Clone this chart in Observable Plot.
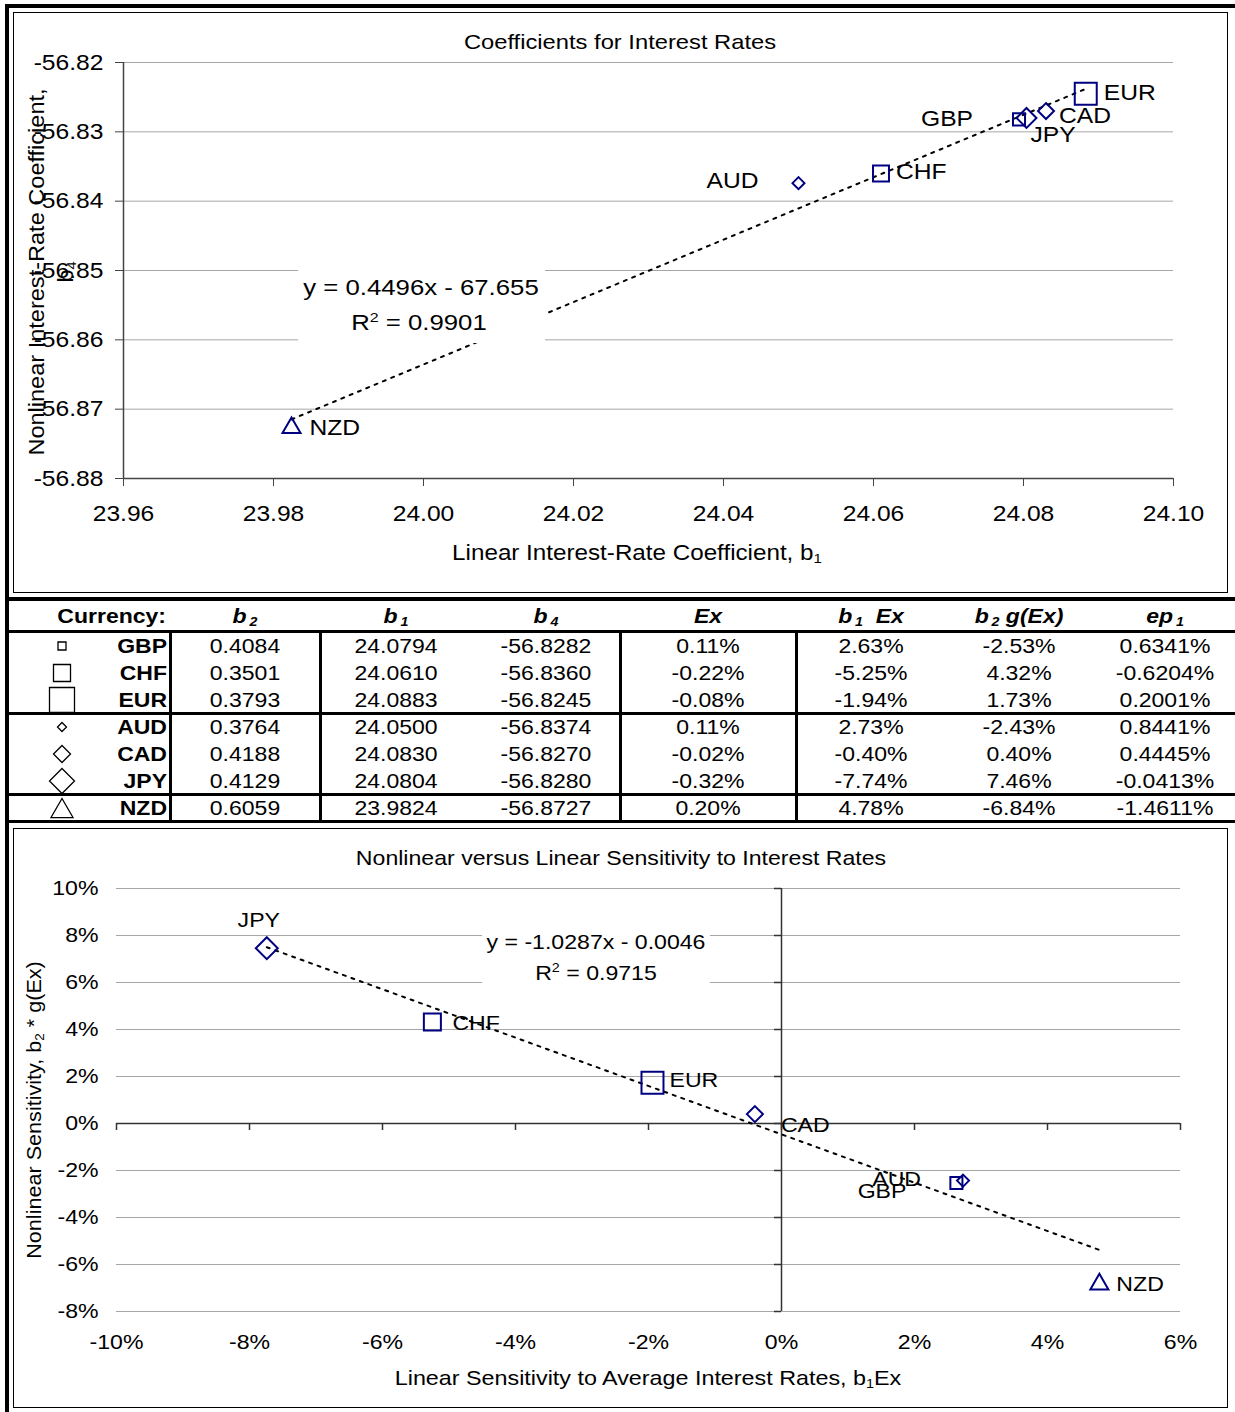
<!DOCTYPE html>
<html><head><meta charset="utf-8">
<script src="https://cdn.jsdelivr.net/npm/d3@7"></script>
<script src="https://cdn.jsdelivr.net/npm/@observablehq/plot@0.6"></script>
<style>
body{margin:0;background:#fff;font-family:"Liberation Sans",Arial,sans-serif;color:#000;}
#page{position:relative;width:1235px;height:1412px;overflow:hidden;background:#fff;}
sub{font-size:62%;vertical-align:-0.25em;line-height:0;}
sup{font-size:62%;vertical-align:0.6em;line-height:0;}
</style></head><body><div id="page"></div>
<script>
// ---------- data ----------
const currencies = ["GBP","CHF","EUR","AUD","CAD","JPY","NZD"];
const b2    = [0.4084, 0.3501, 0.3793, 0.3764, 0.4188, 0.4129, 0.6059];
const b1    = [24.0794, 24.0610, 24.0883, 24.0500, 24.0830, 24.0804, 23.9824];
const b4    = [-56.8282, -56.8360, -56.8245, -56.8374, -56.8270, -56.8280, -56.8727];
const ex    = [0.11, -0.22, -0.08, 0.11, -0.02, -0.32, 0.20];      // %
const b1Ex  = [2.63, -5.25, -1.94, 2.73, -0.40, -7.74, 4.78];       // %
const b2gEx = [-2.53, 4.32, 1.73, -2.43, 0.40, 7.46, -6.84];        // %
const ep1   = [0.6341, -0.6204, 0.2001, 0.8441, 0.4445, -0.0413, -1.4611]; // %
const topXTicks = [23.96, 23.98, 24.00, 24.02, 24.04, 24.06, 24.08, 24.10];
const topYTicks = [-56.88, -56.87, -56.86, -56.85, -56.84, -56.83, -56.82];
const botXTicks = [-10, -8, -6, -4, -2, 0, 2, 4, 6];
const botYTicks = [-8, -6, -4, -2, 0, 2, 4, 6, 8, 10];
const topEquation = ["y = 0.4496x - 67.655", "R<sup>2</sup> = 0.9901"];
const botEquation = ["y = -1.0287x - 0.0046", "R<sup>2</sup> = 0.9715"];

const rows = currencies.map((c, i) => ({c, b2: b2[i], b1: b1[i], b4: b4[i], ex: ex[i], b1Ex: b1Ex[i], b2gEx: b2gEx[i], ep1: ep1[i]}));

// ---------- styles ----------
const NAVY = "#000080";
const marker = {
  GBP: {symbol: "square",   rTop: 6.8, rBot: 6.8},
  CHF: {symbol: "square",   rTop: 9.0, rBot: 9.6},
  EUR: {symbol: "square",   rTop: 12.4, rBot: 12.4},
  AUD: {symbol: "diamond2", rTop: 5.4, rBot: 5.4},
  CAD: {symbol: "diamond2", rTop: 7.2, rBot: 7.2},
  JPY: {symbol: "diamond2", rTop: 9.0, rBot: 9.9},
  NZD: {symbol: "triangle", rTop: 6.7, rBot: 6.7}
};
const topLab = {
  GBP: {a: "end", dx: -46, dy: 0}, CHF: {a: "start", dx: 15, dy: -1}, EUR: {a: "start", dx: 18, dy: -1},
  AUD: {a: "end", dx: -40, dy: -2}, CAD: {a: "start", dx: 13, dy: 5}, JPY: {a: "start", dx: 4, dy: 17},
  NZD: {a: "start", dx: 18, dy: 0}
};
const botLab = {
  GBP: {a: "end", dx: -50, dy: 8}, CHF: {a: "start", dx: 20, dy: 1}, EUR: {a: "start", dx: 17, dy: -3},
  AUD: {a: "end", dx: -42, dy: -1}, CAD: {a: "start", dx: 26, dy: 11}, JPY: {a: "middle", dx: -8, dy: -28},
  NZD: {a: "start", dx: 17, dy: 0}
};

const page = document.getElementById("page");
function el(tag, css, html) {
  const e = document.createElement(tag);
  Object.assign(e.style, css);
  if (html != null) e.innerHTML = html;
  page.appendChild(e);
  return e;
}
function label(html, cx, cy, o = {}) {
  const size = o.size || 22, k = o.k || 1.1, anchor = o.anchor || "middle";
  const tx = anchor === "middle" ? "-50%" : anchor === "end" ? "-100%" : "0";
  const origin = anchor === "middle" ? "50% 50%" : anchor === "end" ? "100% 50%" : "0 50%";
  const tr = o.rotate ? `translate(-50%,-50%) rotate(-90deg) scaleX(${k})` : `translate(${tx},-50%) scaleX(${k})`;
  return el("div", {position: "absolute", left: cx + "px", top: cy + "px", whiteSpace: "nowrap",
    fontSize: size + "px", lineHeight: (o.lh || Math.round(size * 1.25)) + "px", fontWeight: o.weight || "normal",
    fontStyle: o.style || "normal", textAlign: "center", transformOrigin: o.rotate ? "50% 50%" : origin, transform: tr, zIndex: 3}, html);
}
function stretch(svg, k) {
  svg.querySelectorAll("text").forEach(t => {
    const bb = t.getBBox();
    const an = getComputedStyle(t).textAnchor;
    const ax = an === "end" ? bb.x + bb.width : an === "middle" ? bb.x + bb.width / 2 : bb.x;
    const tr = t.getAttribute("transform") || "";
    t.setAttribute("transform", `${tr} translate(${ax},0) scale(${k},1) translate(${-ax},0)`);
  });
}

// ---------- outer frame ----------
el("div", {position: "absolute", left: "5px", top: "4px", width: "1400px", height: "1500px", borderLeft: "4px solid #000", borderTop: "4px solid #000"});

// ---------- top chart ----------
el("div", {position: "absolute", left: "13px", top: "12px", width: "1213px", height: "579px", border: "1.5px solid #000"});
const topFont = 22, topK = 1.12;
const topChart = Plot.plot({
  width: 1213, height: 579,
  marginLeft: 109, marginRight: 54, marginTop: 49, marginBottom: 114,
  style: {fontFamily: '"Liberation Sans", Arial, sans-serif', fontSize: topFont + "px", color: "#000", background: "transparent", overflow: "visible"},
  x: {domain: [23.96, 24.10]},
  y: {domain: [-56.88, -56.82]},
  marks: [
    Plot.gridY(topYTicks, {stroke: "#a6a6a6", strokeOpacity: 1, strokeWidth: 1}),
    Plot.ruleY([-56.88], {stroke: "#444", strokeWidth: 1.5}),
    Plot.ruleX([23.96], {stroke: "#444", strokeWidth: 1.5}),
    Plot.axisY(topYTicks, {tickSize: 8, tickPadding: 12, tickFormat: d => d.toFixed(2), stroke: "#444", label: null}),
    Plot.axisX(topXTicks, {tickSize: 8, tickPadding: 19, tickFormat: d => d.toFixed(2), stroke: "#444", label: null}),
    Plot.linearRegressionY(rows, {x: "b1", y: "b4", ci: 0, stroke: "#000", strokeWidth: 2, strokeDasharray: "3,6"}),
    ...rows.map(r => Plot.dot([r], {x: "b1", y: "b4", symbol: marker[r.c].symbol, r: marker[r.c].rTop, stroke: NAVY, strokeWidth: 2, fill: "none"})),
    ...rows.map(r => Plot.text([r], {x: "b1", y: "b4", text: "c", textAnchor: topLab[r.c].a, dx: topLab[r.c].dx, dy: topLab[r.c].dy, fill: "#000"}))
  ]
});
topChart.style.position = "absolute"; topChart.style.left = "14px"; topChart.style.top = "13px"; topChart.style.zIndex = 1;
page.appendChild(topChart);
stretch(topChart, topK);

label("Coefficients for Interest Rates", 620, 42, {size: 21, k: 1.13});
label("Linear Interest-Rate Coefficient, b<sub>1</sub>", 637, 553, {size: 22, k: 1.1});
label("Nonlinear Interest-Rate Coefficient,<br>b<sub>4</sub>", 51, 272, {size: 22, k: 1.07, rotate: true, lh: 29});
el("div", {position: "absolute", left: "298px", top: "266px", width: "247px", height: "77px", background: "#fff", zIndex: 2});
label(topEquation[0], 421, 288, {size: 22, k: 1.17});
label(topEquation[1], 419, 323, {size: 22, k: 1.17});

// ---------- table ----------
[[597, 4], [630, 3], [712, 3], [793, 3], [820, 3]].forEach(([y, h]) =>
  el("div", {position: "absolute", left: "9px", top: y + "px", width: "1240px", height: h + "px", background: "#000"}));
[169, 319, 619, 795].forEach(x =>
  el("div", {position: "absolute", left: x + "px", top: "630px", width: "3px", height: "193px", background: "#000"}));

const tFont = 20, tK = 1.15;
const headY = 616;
label("Currency:", 166, headY, {size: tFont, k: tK, anchor: "end", weight: "bold"});
const headers = [
  ["b<sub>&thinsp;2</sub>", 245], ["b<sub>&thinsp;1</sub>", 396], ["b<sub>&thinsp;4</sub>", 546], ["Ex", 708],
  ["b<sub>&thinsp;1</sub>&nbsp; Ex", 871], ["b<sub>&thinsp;2</sub>&nbsp;g(Ex)", 1019], ["ep<sub>&thinsp;1</sub>", 1165]
];
headers.forEach(([h, x]) => label(h, x, headY, {size: tFont, k: tK, weight: "bold", style: "italic"}));

const rowY = [646, 673, 700, 727, 754, 781, 808];
const tableIcon = {
  GBP: [d3.symbolSquare, 8 * 8], CHF: [d3.symbolSquare, 17 * 17], EUR: [d3.symbolSquare, 25 * 25],
  AUD: [d3.symbolDiamond2, (9 / 1.2525) ** 2], CAD: [d3.symbolDiamond2, (17 / 1.2525) ** 2], JPY: [d3.symbolDiamond2, (25 / 1.2525) ** 2],
  NZD: [d3.symbolTriangle, 22 * 22 * Math.sqrt(3) / 4]
};
rows.forEach((r, i) => {
  const y = rowY[i];
  const [type, size] = tableIcon[r.c];
  const s = 40;
  const off = type === d3.symbolTriangle ? Math.sqrt(size / (3 * Math.sqrt(3))) / 2 : 0;
  const svg = d3.create("svg").attr("width", s).attr("height", s)
    .style("position", "absolute").style("left", (62 - s / 2) + "px").style("top", (y - s / 2) + "px").style("overflow", "visible");
  svg.append("path").attr("transform", `translate(${s / 2},${s / 2 + off})`).attr("d", d3.symbol(type, size)())
    .attr("fill", "none").attr("stroke", "#000").attr("stroke-width", 1.3);
  page.appendChild(svg.node());
  label(r.c, 167, y, {size: tFont, k: tK, anchor: "end", weight: "bold"});
  const vals = [
    [r.b2.toFixed(4), 245], [r.b1.toFixed(4), 396], [r.b4.toFixed(4), 546], [r.ex.toFixed(2) + "%", 708],
    [r.b1Ex.toFixed(2) + "%", 871], [r.b2gEx.toFixed(2) + "%", 1019], [r.ep1.toFixed(4) + "%", 1165]
  ];
  vals.forEach(([v, x]) => label(v, x, y, {size: tFont, k: tK}));
});

// ---------- bottom chart ----------
el("div", {position: "absolute", left: "13px", top: "828px", width: "1213px", height: "578px", border: "1.5px solid #000"});
const botFont = 21, botK = 1.1;
const bW = 1213, bH = 578, bML = 102, bMR = 47, bMT = 59, bMB = 96;
const tickLenY = 7 / (bH - bMT - bMB) * 18;
const tickLenX = 7 / (bW - bML - bMR) * 16;
const botChart = Plot.plot({
  width: bW, height: bH,
  marginLeft: bML, marginRight: bMR, marginTop: bMT, marginBottom: bMB,
  style: {fontFamily: '"Liberation Sans", Arial, sans-serif', fontSize: botFont + "px", color: "#000", background: "transparent", overflow: "visible"},
  x: {domain: [-10, 6]},
  y: {domain: [-8, 10]},
  marks: [
    Plot.gridY(botYTicks, {stroke: "#a6a6a6", strokeOpacity: 1, strokeWidth: 1}),
    Plot.ruleY([0], {stroke: "#333", strokeWidth: 1.5}),
    Plot.ruleX([0], {stroke: "#333", strokeWidth: 1.5}),
    Plot.ruleX(botXTicks, {x: d => d, y1: () => 0, y2: () => -tickLenY, stroke: "#333", strokeWidth: 1.5}),
    Plot.ruleY(botYTicks, {y: d => d, x1: () => -tickLenX, x2: () => 0, stroke: "#333", strokeWidth: 1.5}),
    Plot.axisY(botYTicks, {tickSize: 0, tickPadding: 18, tickFormat: d => d + "%", label: null}),
    Plot.axisX(botXTicks, {tickSize: 0, tickPadding: 23, tickFormat: d => d + "%", label: null}),
    Plot.linearRegressionY(rows, {x: "b1Ex", y: "b2gEx", ci: 0, stroke: "#000", strokeWidth: 2, strokeDasharray: "3,6"}),
    ...rows.map(r => Plot.dot([r], {x: "b1Ex", y: "b2gEx", symbol: marker[r.c].symbol, r: marker[r.c].rBot, stroke: NAVY, strokeWidth: 2, fill: "none"})),
    ...rows.map(r => Plot.text([r], {x: "b1Ex", y: "b2gEx", text: "c", textAnchor: botLab[r.c].a, dx: botLab[r.c].dx, dy: botLab[r.c].dy, fill: "#000"}))
  ]
});
botChart.style.position = "absolute"; botChart.style.left = "14px"; botChart.style.top = "829px"; botChart.style.zIndex = 1;
page.appendChild(botChart);
stretch(botChart, botK);

label("Nonlinear versus Linear Sensitivity to Interest Rates", 621, 858, {size: 21, k: 1.1});
label("Linear Sensitivity to Average Interest Rates, b<sub>1</sub>Ex", 648, 1378, {size: 21, k: 1.11});
label("Nonlinear Sensitivity, b<sub>2</sub> * g(Ex)", 34, 1110, {size: 20, k: 1.08, rotate: true});
el("div", {position: "absolute", left: "482px", top: "922px", width: "228px", height: "74px", background: "#fff", zIndex: 2});
label(botEquation[0], 596, 942, {size: 21, k: 1.1});
label(botEquation[1], 596, 973, {size: 21, k: 1.1});
</script></body></html>
